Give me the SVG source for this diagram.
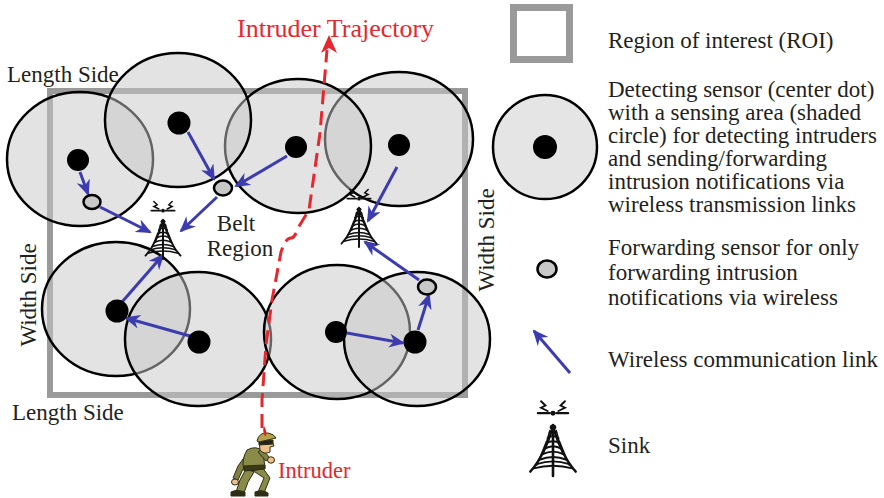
<svg xmlns="http://www.w3.org/2000/svg" xmlns:xlink="http://www.w3.org/1999/xlink" width="884" height="498" viewBox="0 0 884 498">
  <style>
    .t { font-family: "Liberation Serif", "Times New Roman", serif; font-size: 23px; fill: #231f20; }
    .red { font-family: "Liberation Serif", "Times New Roman", serif; fill: #e8262d; }
    .area { fill: #c8c8c8; fill-opacity: 0.5; stroke: #000; stroke-width: 2.5; }
    .dot { fill: #000; }
    .fwd { fill: #c8c8c8; stroke: #000; stroke-width: 2.5; }
    .roi { fill: none; stroke: #9a9a9a; }
    .link { stroke: #3c3cb0; stroke-width: 3; fill: none; marker-end: url(#ab); }
    .traj { stroke: #e8262d; stroke-width: 3; fill: none; stroke-dasharray: 14 7; }
  </style>
  <defs>
    <marker id="ab" viewBox="0 0 16 14" refX="14" refY="7" markerWidth="16" markerHeight="14" markerUnits="userSpaceOnUse" orient="auto">
      <path d="M0,0 L16,7 L0,14 L5,7 Z" fill="#3c3cb0"/>
    </marker>
    <!-- lattice tower with radio antenna, origin at tower apex -->
    <symbol id="sink" viewBox="-24 -26 48 72" overflow="visible">
      <g fill="none" stroke="#111" stroke-width="2.2" stroke-linecap="round">
        <path d="M0,0 C-4,14 -10,30 -21,42 M0,0 C4,14 10,30 21,42"/>
        <path d="M0,-1 V46" stroke-width="2.4"/>
        <path d="M-3,6 Q0,3 3,6 M-5,11 Q0,7 5,11 M-6.5,16 Q0,12 6.5,16 M-8,21 Q0,16 8,21 M-10,26 Q0,21 10,26 M-12.5,31 Q0,26 12.5,31 M-15,35 Q0,30 15,35 M-18,39 Q0,34 18,39" stroke-width="1.8"/>
        <path d="M-3,4 L-9,26 M3,4 L9,26 M-6,14 L-15,36 M6,14 L15,36" stroke-width="1.3"/>
        <path d="M-14,-12 H-3 M3,-12 H14" stroke-width="2"/>
        <path d="M-11,-23 L-7,-19 L-11,-17 L-5,-14 M11,-23 L7,-19 L11,-17 L5,-14" stroke-width="1.8"/>
      </g>
      <ellipse cx="0" cy="1" rx="3" ry="2.5" fill="#111"/>
      <circle cx="0" cy="-12" r="2.3" fill="#111"/>
    </symbol>
  </defs>

  <rect width="884" height="498" fill="#fff"/>

  <!-- region of interest -->
  <rect id="roi" class="roi" x="50" y="91" width="415" height="304" stroke-width="6"/>

  <!-- sensing areas -->
  <g id="areas">
    <ellipse id="area-c1" class="area" cx="80" cy="159" rx="73" ry="67"/>
    <ellipse id="area-c4" class="area" cx="399" cy="139" rx="74" ry="67"/>
    <ellipse id="area-c3" class="area" cx="298" cy="146" rx="73" ry="67"/>
    <ellipse id="area-c2" class="area" cx="178" cy="120" rx="73" ry="67"/>
    <ellipse id="area-c5" class="area" cx="116" cy="309" rx="74" ry="67"/>
    <ellipse id="area-c6" class="area" cx="198" cy="339" rx="73" ry="67"/>
    <ellipse id="area-c7" class="area" cx="337" cy="332" rx="73" ry="67"/>
    <ellipse id="area-c8" class="area" cx="417" cy="339" rx="73" ry="67"/>
  </g>

  <!-- intruder trajectory -->
  <g id="trajectory">
    <path class="traj" d="M262,428 L262,400 L266,345 L272,300 L281,252 C284,243 287,238 291,238 C294,238 296,234 298,228 L309,210 L320,133 L327,50"/>
    <polygon points="329,35 337,53 329,48 321,53" fill="#e8262d"/>
  </g>

  <!-- wireless links -->
  <g id="links">
    <line class="link" x1="80" y1="172" x2="88" y2="194"/>
    <line class="link" x1="100" y1="207" x2="150" y2="232"/>
    <line class="link" x1="188" y1="132" x2="214" y2="179"/>
    <line class="link" x1="287" y1="156" x2="236" y2="186"/>
    <line class="link" x1="217" y1="197" x2="181" y2="231"/>
    <line class="link" x1="397" y1="167" x2="368" y2="221"/>
    <line class="link" x1="122" y1="302" x2="163" y2="255"/>
    <line class="link" x1="190" y1="336" x2="126" y2="318"/>
    <line class="link" x1="347" y1="333" x2="403" y2="343"/>
    <line class="link" x1="418" y1="330" x2="429" y2="295"/>
    <line class="link" x1="419" y1="280" x2="365" y2="242"/>
  </g>

  <!-- detecting sensors -->
  <g id="c1"><circle class="dot" cx="78" cy="160" r="11"/></g>
  <g id="c2"><circle class="dot" cx="179" cy="123" r="11.5"/></g>
  <g id="c3"><circle class="dot" cx="296" cy="147" r="11"/></g>
  <g id="c4"><circle class="dot" cx="399" cy="145" r="11"/></g>
  <g id="c5"><circle class="dot" cx="117" cy="311" r="11.5"/></g>
  <g id="c6"><circle class="dot" cx="199" cy="342" r="11.5"/></g>
  <g id="c7"><circle class="dot" cx="336" cy="332" r="11"/></g>
  <g id="c8"><circle class="dot" cx="415" cy="342" r="11.5"/></g>

  <!-- forwarding sensors -->
  <g id="f1"><ellipse class="fwd" cx="92" cy="202" rx="8.5" ry="7"/></g>
  <g id="f2"><ellipse class="fwd" cx="223" cy="188" rx="9" ry="7.5"/></g>
  <g id="f3"><ellipse class="fwd" cx="427" cy="287" rx="9" ry="7.5"/></g>

  <!-- sinks -->
  <g id="s1"><use xlink:href="#sink" x="143" y="199" width="40" height="60"/></g>
  <g id="s2"><use xlink:href="#sink" x="339" y="187" width="40" height="60"/></g>

  <!-- labels -->
  <g id="labels">
    <text class="red" x="237" y="37" font-size="26">Intruder Trajectory</text>
    <text class="t" x="7" y="82">Length Side</text>
    <text class="t" x="12" y="420">Length Side</text>
    <text class="t" transform="translate(36,295) rotate(-90)" text-anchor="middle">Width Side</text>
    <text class="t" transform="translate(494,240) rotate(-90)" text-anchor="middle">Width Side</text>
    <text class="t" x="236" y="231" text-anchor="middle">Belt</text>
    <text class="t" x="240" y="256" text-anchor="middle">Region</text>
    <text class="red" x="278" y="478" font-size="22.5">Intruder</text>
  </g>

  <!-- intruder -->
  <g id="intruder" stroke="#2e2e14" stroke-width="1" stroke-linejoin="round">
    <!-- legs -->
    <path d="M246,469 L240,480 L236,492 L244,493 L248,482 L254,472 Z" fill="#8a8b48"/>
    <path d="M252,470 L264,478 L258,492 L264,493 L270,478 L262,467 Z" fill="#8a8b48"/>
    <path d="M231,492 Q236,489 245,492 L245,496 L231,496 Z" fill="#2e2e14"/>
    <path d="M255,492 Q262,489 268,493 L268,496 L255,496 Z" fill="#2e2e14"/>
    <!-- back arm -->
    <path d="M248,452 L238,466 L233,478 L238,480 L243,469 L252,458 Z" fill="#7f8042"/>
    <ellipse cx="235" cy="482" rx="3.5" ry="3" fill="#f0c08a"/>
    <!-- torso -->
    <path d="M247,450 Q256,445 263,451 L265,468 Q254,472 244,470 Q241,460 247,450 Z" fill="#8a8b48"/>
    <path d="M244,466 L265,465 L265,469 L244,471 Z" fill="#3a3a1a"/>
    <!-- front arm -->
    <path d="M258,452 L266,461 L270,458 L262,449 Z" fill="#7f8042"/>
    <ellipse cx="271" cy="460" rx="3.5" ry="3.2" fill="#f0c08a"/>
    <!-- head -->
    <path d="M259,440 Q268,437 272,441 L274,446 L270,447 L270,452 Q264,455 260,450 Z" fill="#f0c08a"/>
    <path d="M259,441 L273,440 L273,444 L259,445 Z" fill="#222"/>
    <path d="M257,441 Q259,432 268,433 Q274,434 276,438 L259,442 Z" fill="#b4a24a"/>
    <path d="M265,436 Q262,431 264,426 Q267,430 266,436 Z" fill="#e02020" stroke="none"/>
  </g>

  <!-- legend -->
  <g id="legend-roi">
    <rect class="roi" x="513.5" y="7.5" width="56" height="52" stroke-width="7"/>
    <text class="t" x="608" y="48">Region of interest (ROI)</text>
  </g>
  <g id="legend-sensor">
    <circle cx="545" cy="147" r="52" fill="#e5e5e5" stroke="#000" stroke-width="2.5"/>
    <circle class="dot" cx="545" cy="147" r="12"/>
    <text class="t" x="608" y="97">Detecting sensor (center dot)</text>
    <text class="t" x="608" y="120">with a sensing area (shaded</text>
    <text class="t" x="608" y="143">circle) for detecting intruders</text>
    <text class="t" x="608" y="166">and sending/forwarding</text>
    <text class="t" x="608" y="189">intrusion notifications via</text>
    <text class="t" x="608" y="212">wireless transmission links</text>
  </g>
  <g id="legend-forwarder">
    <ellipse class="fwd" cx="547" cy="269" rx="9.5" ry="8.5"/>
    <text class="t" x="608" y="255">Forwarding sensor for only</text>
    <text class="t" x="608" y="280">forwarding intrusion</text>
    <text class="t" x="608" y="305">notifications via wireless</text>
  </g>
  <g id="legend-link">
    <line class="link" x1="570" y1="373" x2="534" y2="331"/>
    <text class="t" x="608" y="367">Wireless communication link</text>
  </g>
  <g id="legend-sink">
    <use xlink:href="#sink" x="527" y="398" width="52" height="78"/>
    <text class="t" x="608" y="453">Sink</text>
  </g>
</svg>
